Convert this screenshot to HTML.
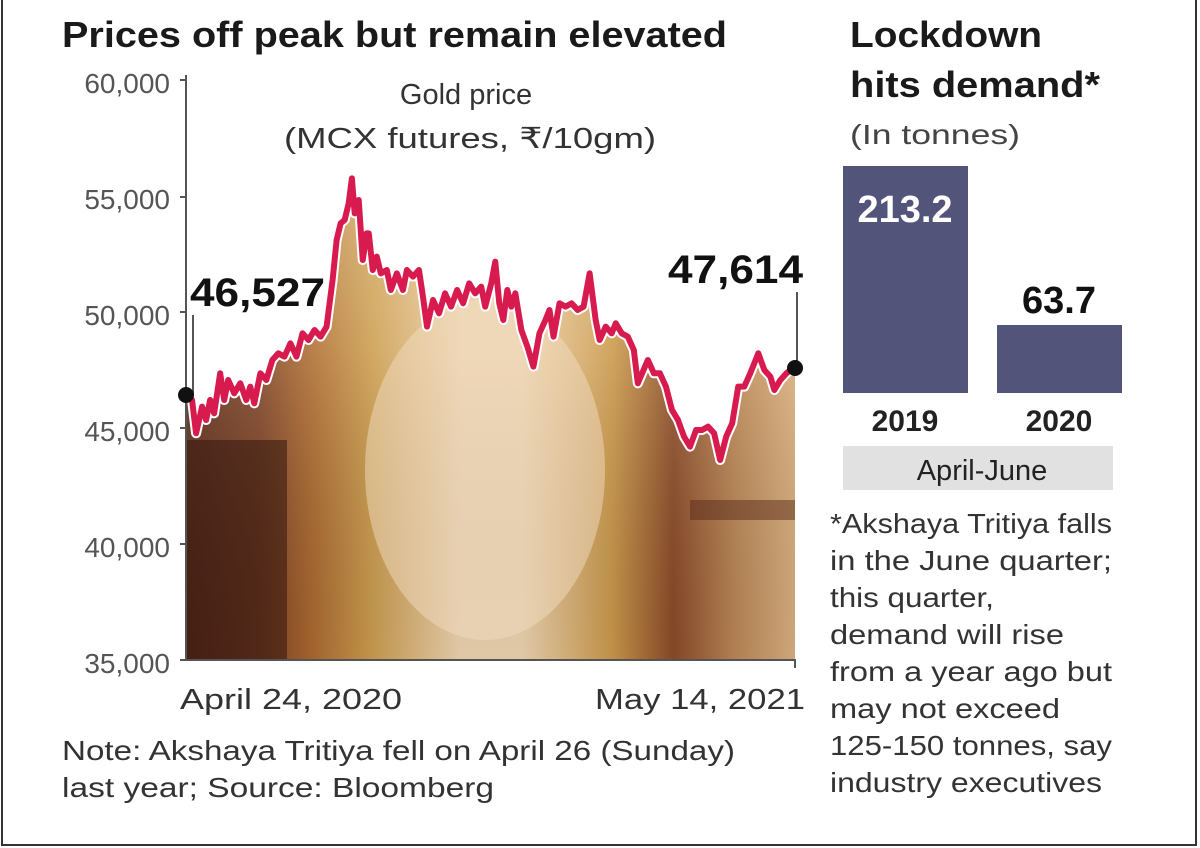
<!DOCTYPE html>
<html><head><meta charset="utf-8"><style>html,body{margin:0;padding:0;background:#fff}svg{display:block}</style></head>
<body>
<svg width="1200" height="848" viewBox="0 0 1200 848" xmlns="http://www.w3.org/2000/svg" font-family="Liberation Sans, sans-serif">
<defs>
<linearGradient id="hg" x1="0" y1="0" x2="1" y2="0">
<stop offset="0" stop-color="#5a2a1a"/>
<stop offset="0.12" stop-color="#7a4026"/>
<stop offset="0.2" stop-color="#a8652f"/>
<stop offset="0.3" stop-color="#c99a4c"/>
<stop offset="0.45" stop-color="#ecd3b0"/>
<stop offset="0.55" stop-color="#ecd3b0"/>
<stop offset="0.7" stop-color="#c9974a"/>
<stop offset="0.8" stop-color="#8a4a28"/>
<stop offset="0.9" stop-color="#b98556"/>
<stop offset="1" stop-color="#d8b080"/>
</linearGradient>
<linearGradient id="vg" x1="0" y1="0" x2="0" y2="1">
<stop offset="0" stop-color="#f0d8b0" stop-opacity="0.55"/>
<stop offset="0.4" stop-color="#f0d8b0" stop-opacity="0.2"/>
<stop offset="1" stop-color="#000" stop-opacity="0.05"/>
</linearGradient>
<clipPath id="cp">
<path id="areaP" d=""/>
</clipPath>
</defs>
<rect x="2" y="-2" width="1194" height="847" fill="none" stroke="#333" stroke-width="2"/>

<g lengthAdjust="spacingAndGlyphs">
<text x="62" y="47" font-size="36" font-weight="bold" fill="#1a1a1a" textLength="665" lengthAdjust="spacingAndGlyphs">Prices off peak but remain elevated</text>
<text x="850" y="47" font-size="36" font-weight="bold" fill="#1a1a1a" textLength="192" lengthAdjust="spacingAndGlyphs">Lockdown</text>
<text x="850" y="97" font-size="36" font-weight="bold" fill="#1a1a1a" textLength="250" lengthAdjust="spacingAndGlyphs">hits demand*</text>
<text x="850" y="144" font-size="28" fill="#444" textLength="170" lengthAdjust="spacingAndGlyphs">(In tonnes)</text>
</g>

<g font-size="28" fill="#555" text-anchor="end">
<text x="170" y="93">60,000</text>
<text x="170" y="209">55,000</text>
<text x="170" y="325">50,000</text>
<text x="170" y="441">45,000</text>
<text x="170" y="557">40,000</text>
<text x="170" y="673">35,000</text>
</g>
<text x="466" y="104" font-size="29" fill="#333" text-anchor="middle">Gold price</text>
<text x="470" y="148" font-size="29" fill="#333" text-anchor="middle" textLength="372" lengthAdjust="spacingAndGlyphs">(MCX futures, ₹/10gm)</text>

<g clip-path="url(#cp)">
<rect x="187" y="150" width="608" height="510" fill="url(#hg)"/>
<rect x="187" y="150" width="608" height="510" fill="url(#vg)"/>
<rect x="187" y="440" width="100" height="220" fill="#3a1a10" opacity="0.6"/>
<ellipse cx="485" cy="470" rx="120" ry="170" fill="#f2dcc0" opacity="0.5"/>
<rect x="690" y="500" width="105" height="20" fill="#5a2a18" opacity="0.5"/>
</g>

<g stroke="#555" stroke-width="2" fill="none">
<line x1="186" y1="75" x2="186" y2="661"/>
<line x1="186" y1="660" x2="796" y2="660"/>
<line x1="180" y1="197" x2="186" y2="197"/>
<line x1="180" y1="312" x2="186" y2="312"/>
<line x1="180" y1="428" x2="186" y2="428"/>
<line x1="180" y1="544" x2="186" y2="544"/>
<line x1="180" y1="660" x2="186" y2="660"/>
<line x1="180" y1="80" x2="186" y2="80"/>
<line x1="795" y1="660" x2="795" y2="668"/>
<line x1="193" y1="315" x2="193" y2="395"/>
<line x1="797" y1="292" x2="797" y2="368"/>
</g>

<g transform="translate(180,160) scale(0.4016,0.3333)">
<path id="ln" fill="none" stroke-linejoin="round" stroke-linecap="round" vector-effect="non-scaling-stroke" d=""/>
</g>

<circle cx="186" cy="395" r="8" fill="#111"/>
<circle cx="795" cy="368" r="8" fill="#111"/>

<text x="190" y="306" font-size="40" font-weight="bold" fill="#111" textLength="135" lengthAdjust="spacingAndGlyphs">46,527</text>
<text x="668" y="283" font-size="40" font-weight="bold" fill="#111" textLength="135" lengthAdjust="spacingAndGlyphs">47,614</text>

<text x="180" y="709" font-size="29" fill="#333" textLength="222" lengthAdjust="spacingAndGlyphs">April 24, 2020</text>
<text x="805" y="709" font-size="29" fill="#333" text-anchor="end" textLength="210" lengthAdjust="spacingAndGlyphs">May 14, 2021</text>
<text x="62" y="760" font-size="28" fill="#333" textLength="673" lengthAdjust="spacingAndGlyphs">Note: Akshaya Tritiya fell on April 26 (Sunday)</text>
<text x="62" y="797" font-size="28" fill="#333" textLength="432" lengthAdjust="spacingAndGlyphs">last year; Source: Bloomberg</text>

<rect x="843" y="166" width="125" height="227" fill="#53547a"/>
<rect x="997" y="325" width="125" height="68" fill="#53547a"/>
<text x="905" y="222" font-size="38" font-weight="bold" fill="#fff" text-anchor="middle">213.2</text>
<text x="1059" y="313" font-size="38" font-weight="bold" fill="#111" text-anchor="middle">63.7</text>
<text x="905" y="431" font-size="30" font-weight="bold" fill="#222" text-anchor="middle">2019</text>
<text x="1059" y="431" font-size="30" font-weight="bold" fill="#222" text-anchor="middle">2020</text>
<rect x="843" y="446" width="270" height="44" fill="#e1e1e1"/>
<text x="982" y="480" font-size="29" fill="#222" text-anchor="middle">April-June</text>

<g font-size="28" fill="#333">
<text x="830" y="533" textLength="282" lengthAdjust="spacingAndGlyphs">*Akshaya Tritiya falls</text>
<text x="830" y="570" textLength="282" lengthAdjust="spacingAndGlyphs">in the June quarter;</text>
<text x="830" y="607" textLength="164" lengthAdjust="spacingAndGlyphs">this quarter,</text>
<text x="830" y="644" textLength="234" lengthAdjust="spacingAndGlyphs">demand will rise</text>
<text x="830" y="681" textLength="282" lengthAdjust="spacingAndGlyphs">from a year ago but</text>
<text x="830" y="718" textLength="230" lengthAdjust="spacingAndGlyphs">may not exceed</text>
<text x="830" y="755" textLength="282" lengthAdjust="spacingAndGlyphs">125-150 tonnes, say</text>
<text x="830" y="792" textLength="272" lengthAdjust="spacingAndGlyphs">industry executives</text>
</g>

<script>
var p=[[30,720],[40,820],[55,740],[65,780],[75,720],[85,760],[100,640],[110,720],[120,660],[135,700],[150,670],[165,720],[175,680],[185,730],[200,640],[215,660],[230,600],[245,580],[260,590],[275,550],[290,590],[305,520],[320,540],[335,510],[350,530],[365,500],[380,360],[390,240],[400,190],[410,180],[420,130],[428,55],[435,160],[445,120],[455,300],[465,220],[470,220],[480,330],[490,290],[500,340],[515,330],[525,390],[540,340],[555,390],[565,330],[580,350],[595,330],[605,410],[615,500],[630,420],[645,460],[660,400],[675,440],[690,390],[705,430],[720,370],[735,400],[750,380],[760,440],[775,370],[785,305],[795,430],[805,480],[815,390],[825,440],[835,400],[850,510],[865,560],[880,620],[895,520],[910,480],[920,450],[930,530],[945,430],[960,440],[975,430],[990,450],[1005,440],[1020,340],[1035,480],[1045,540],[1060,500],[1075,520],[1085,490],[1100,520],[1115,530],[1130,570],[1140,670],[1165,600],[1180,640],[1195,640],[1210,680],[1225,750],[1240,780],[1255,830],[1270,860],[1285,810],[1300,810],[1315,800],[1330,820],[1345,900],[1360,830],[1375,790],[1390,680],[1405,680],[1420,640],[1440,580],[1455,630],[1470,650],[1480,690],[1495,660],[1510,640],[1525,625]];
var d="M"+p.map(function(a){return a[0]+","+a[1]}).join(" L");
var g=document.getElementById("ln");
var w=g.cloneNode();w.setAttribute("d",d);w.setAttribute("stroke","#fff");w.setAttribute("stroke-width","10");
g.parentNode.insertBefore(w,g);
g.setAttribute("d",d);g.setAttribute("stroke","#d81b4f");g.setAttribute("stroke-width","6");
var a="M"+p.map(function(q){return (180+q[0]*0.4016)+","+(160+q[1]/3)}).join(" L")+" L795,360 L795,660 L187,660 L187,400 Z";
document.getElementById("areaP").setAttribute("d",a);
</script>
</svg>
</body></html>
